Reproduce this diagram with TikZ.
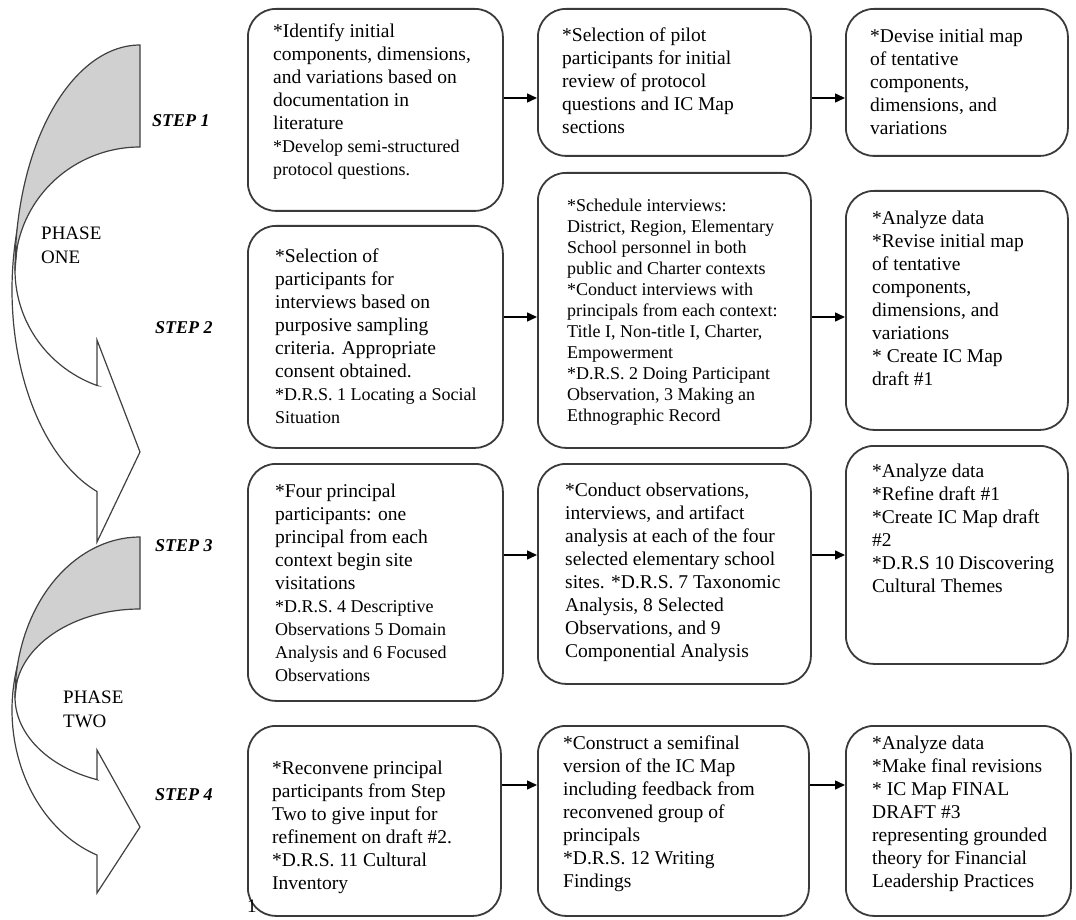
\documentclass[tikz,border=0pt]{standalone}
\usepackage{fontspec}
\setmainfont{Liberation Serif}
\usetikzlibrary{arrows.meta}
\definecolor{boxline}{HTML}{3A3A3A}
\definecolor{bandgray}{HTML}{D0D0D0}
\definecolor{bandline}{HTML}{404040}
\newcommand\smtxt{\fontsize{18}{23}\selectfont}
\begin{document}
\begin{tikzpicture}[x=1pt,y=-1pt,
  box/.style={draw=boxline, line width=1.8pt, rounded corners=28pt, fill=white,
    anchor=north west, inner sep=0pt},
  txt/.style={anchor=north west, align=left, inner sep=0pt,
    font=\fontsize{19.5}{23}\selectfont},
  steplabel/.style={anchor=west, inner sep=0pt, font=\fontsize{18}{20}\selectfont\bfseries\itshape},
  phaselabel/.style={anchor=north west, align=left, inner sep=0pt, font=\fontsize{19}{24}\selectfont},
  conn/.style={draw=black, line width=1.5pt, -{Triangle[length=10pt,width=9pt]}},
  frontband/.style={draw=bandline, line width=1.2pt, fill=white},
  backband/.style={draw=bandline, line width=1.2pt, fill=bandgray}
]
\useasboundingbox (0,0) rectangle (1076,920);

% ---- phase one curved arrow ----
\path[frontband]
  plot[domain=200:109.6, samples=60] ({140+128*cos(\x)}, {290+214*sin(\x)})
  -- (97,542) -- (140,452) -- (97,340) -- (97,385.5)
  -- plot[domain=110.1:180, samples=40] ({140+125*cos(\x)}, {270+123*sin(\x)})
  -- cycle;
\path[backband]
  plot[domain=270:180, samples=60] ({140+125*cos(\x)}, {270+225*sin(\x)})
  -- plot[domain=180:270, samples=60] ({140+125*cos(\x)}, {270+123*sin(\x)})
  -- cycle;

% ---- phase two curved arrow ----
\path[frontband]
  plot[domain=200:109.6, samples=60] ({140+128*cos(\x)}, {710+154*sin(\x)})
  -- (97,893) -- (140,827) -- (97,750) -- (97,779.6)
  -- plot[domain=110.1:180, samples=40] ({140+125*cos(\x)}, {697+88*sin(\x)})
  -- cycle;
\path[backband]
  plot[domain=270:180, samples=60] ({140+125*cos(\x)}, {697+160*sin(\x)})
  -- plot[domain=180:270, samples=60] ({140+125*cos(\x)}, {697+88*sin(\x)})
  -- cycle;

\node[phaselabel] (ph1) at (41,227) {PHASE\\ONE};
\node[phaselabel] (ph2) at (63,691) {PHASE\\TWO};

\node[steplabel] (s1) at (152,121) {STEP 1};
\node[steplabel] (s2) at (155,328) {STEP 2};
\node[steplabel] (s3) at (155,546) {STEP 3};
\node[steplabel] (s4) at (155,795) {STEP 4};

% ---- boxes ----
\node[box, minimum width=255pt, minimum height=202pt] (b11) at (247,8) {};
\node[box, minimum width=273pt, minimum height=147pt] (b12) at (537,8) {};
\node[box, minimum width=222pt, minimum height=147pt] (b13) at (845,8) {};

\node[box, minimum width=255pt, minimum height=222pt] (b21) at (247,225) {};
\node[box, minimum width=273pt, minimum height=275pt] (b22) at (537,172) {};
\node[box, minimum width=222pt, minimum height=239pt] (b23) at (845,190) {};

\node[box, minimum width=255pt, minimum height=237pt] (b31) at (247,463) {};
\node[box, minimum width=273pt, minimum height=220pt] (b32) at (537,463) {};
\node[box, minimum width=222pt, minimum height=218pt] (b33) at (845,445) {};

\node[box, minimum width=253pt, minimum height=190pt] (b41) at (247,725) {};
\node[box, minimum width=271pt, minimum height=190pt] (b42) at (537,725) {};
\node[box, minimum width=225pt, minimum height=190pt] (b43) at (845,725) {};

% ---- box texts ----
\node[txt] (t11) at (273,24) {*Identify initial\\components, dimensions,\\and variations based on\\documentation in\\literature\\\smtxt *Develop semi-structured\\\smtxt protocol questions.};
\node[txt] (t12) at (562,28) {*Selection of pilot\\participants for initial\\review of protocol\\questions and IC Map\\sections};
\node[txt] (t13) at (870,29) {*Devise initial map\\of tentative\\components,\\dimensions, and\\variations};

\node[txt] (t21) at (275,249) {*Selection of\\participants for\\interviews based on\\purposive sampling\\criteria. Appropriate\\consent obtained.\\\smtxt *D.R.S. 1 Locating a Social\\\smtxt Situation};
\node[txt, font=\fontsize{18}{21}\selectfont] (t22) at (567,199) {*Schedule interviews:\\District, Region, Elementary\\School personnel in both\\public and Charter contexts\\*Conduct interviews with\\principals from each context:\\Title I, Non-title I, Charter,\\Empowerment\\*D.R.S. 2 Doing Participant\\Observation, 3 Making an\\Ethnographic Record};
\node[txt] (t23) at (872,211) {*Analyze data\\*Revise initial map\\of tentative\\components,\\dimensions, and\\variations\\* Create IC Map\\draft \#1};

\node[txt] (t31) at (275,484) {*Four principal\\participants: one\\principal from each\\context begin site\\visitations\\\smtxt *D.R.S. 4 Descriptive\\\smtxt Observations 5 Domain\\\smtxt Analysis and 6 Focused\\\smtxt Observations};
\node[txt] (t32) at (565,483) {*Conduct observations,\\interviews, and artifact\\analysis at each of the four\\selected elementary school\\sites. *D.R.S. 7 Taxonomic\\Analysis, 8 Selected\\Observations, and 9\\Componential Analysis};
\node[txt] (t33) at (872,464) {*Analyze data\\*Refine draft \#1\\*Create IC Map draft\\\#2\\*D.R.S 10 Discovering\\Cultural Themes};

\node[txt] (t41) at (272,761) {*Reconvene principal\\participants from Step\\Two to give input for\\refinement on draft \#2.\\*D.R.S. 11 Cultural\\Inventory};
\node[txt] (t42) at (563,736) {*Construct a semifinal\\version of the IC Map\\including feedback from\\reconvened group of\\principals\\*D.R.S. 12 Writing\\Findings};
\node[txt] (t43) at (872,736) {*Analyze data\\*Make final revisions\\* IC Map FINAL\\DRAFT \#3\\representing grounded\\theory for Financial\\Leadership Practices};

\node[anchor=base west, inner sep=0pt, font=\fontsize{19}{20}\selectfont] (pg) at (247,912) {1};

% ---- connectors ----
\draw[conn] (b11.east |- 0,98) -- (b12.west |- 0,98);
\draw[conn] (b12.east |- 0,98) -- (b13.west |- 0,98);
\draw[conn] (b21.east |- 0,317) -- (b22.west |- 0,317);
\draw[conn] (b22.east |- 0,317) -- (b23.west |- 0,317);
\draw[conn] (b31.east |- 0,555) -- (b32.west |- 0,555);
\draw[conn] (b32.east |- 0,555) -- (b33.west |- 0,555);
\draw[conn] (b41.east |- 0,785) -- (b42.west |- 0,785);
\draw[conn] (b42.east |- 0,785) -- (b43.west |- 0,785);
\end{tikzpicture}
\end{document}
